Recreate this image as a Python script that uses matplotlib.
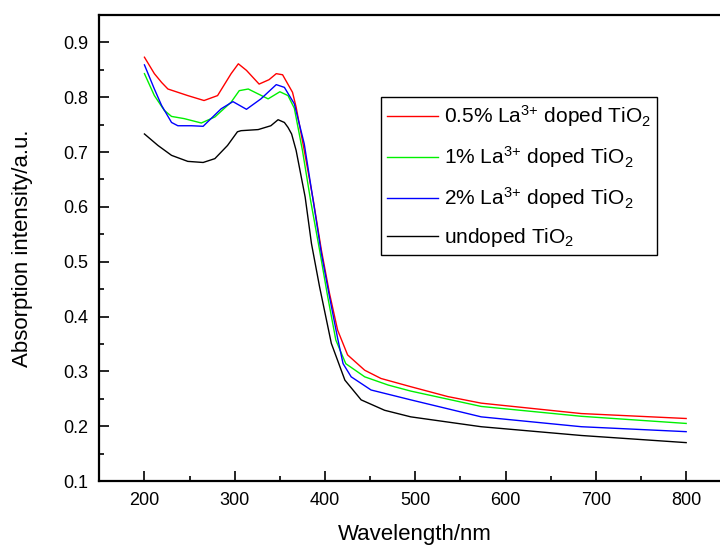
import matplotlib

matplotlib.use("Agg")
import matplotlib.pyplot as plt
from matplotlib.ticker import MultipleLocator

plt.rcParams["font.family"] = ["Liberation Sans", "DejaVu Sans"]
plt.rcParams["mathtext.default"] = "regular"

# UV-vis absorption spectra
wl_05 = [200, 211, 219, 226, 248, 266, 281, 296, 304, 313, 327, 338, 346, 353, 364, 368,
         377, 387, 396, 405, 414, 425, 444, 462, 495, 536, 573, 684, 800]
abs_05 = [0.873, 0.843, 0.827, 0.815, 0.803, 0.794, 0.803, 0.843, 0.861, 0.849, 0.824, 0.832,
          0.843, 0.841, 0.809, 0.782, 0.703, 0.612, 0.521, 0.442, 0.375, 0.330, 0.302, 0.287,
          0.272, 0.254, 0.242, 0.223, 0.214]

wl_1 = [200, 211, 222, 230, 244, 263, 278, 296, 305, 315, 326, 337, 350, 359, 366, 375,
        384, 394, 403, 412, 423, 444, 470, 495, 573, 684, 800]
abs_1 = [0.843, 0.803, 0.776, 0.765, 0.761, 0.753, 0.764, 0.791, 0.812, 0.815, 0.806, 0.797,
         0.810, 0.803, 0.780, 0.703, 0.612, 0.521, 0.436, 0.357, 0.314, 0.290, 0.275, 0.264,
         0.236, 0.218, 0.205]

wl_2 = [200, 211, 219, 230, 237, 252, 265, 285, 298, 313, 329, 346, 355, 366, 377, 388,
        396, 405, 414, 420, 429, 451, 495, 573, 684, 800]
abs_2 = [0.859, 0.815, 0.785, 0.754, 0.748, 0.748, 0.747, 0.779, 0.792, 0.778, 0.797, 0.823,
         0.818, 0.788, 0.715, 0.600, 0.515, 0.436, 0.360, 0.314, 0.290, 0.266, 0.248, 0.217,
         0.199, 0.190]

wl_un = [200, 215, 230, 248, 265, 278, 292, 303, 307, 326, 340, 348, 355, 359, 363, 368,
         378, 385, 394, 407, 422, 440, 466, 495, 573, 684, 800]
abs_un = [0.733, 0.712, 0.694, 0.683, 0.681, 0.688, 0.712, 0.737, 0.739, 0.741, 0.748, 0.759,
          0.754, 0.745, 0.733, 0.703, 0.618, 0.533, 0.454, 0.351, 0.284, 0.248, 0.229, 0.217,
          0.199, 0.183, 0.170]

labels = [r"0.5% La$^{3{+}}$ doped TiO$_2$", r"1% La$^{3{+}}$ doped TiO$_2$",
          r"2% La$^{3{+}}$ doped TiO$_2$", r"undoped TiO$_2$"]

W, H = 720, 545
fig = plt.figure(figsize=(W / 100, H / 100), dpi=100)
# right spine sits just outside the picture, as in the reference
ax = fig.add_axes([99.3 / W, 1 - 481 / H, 632 / W, 466 / H])

ax.plot(wl_05, abs_05, color="#ff0000", lw=1.0, label=labels[0])
ax.plot(wl_1, abs_1, color="#00f000", lw=1.0, label=labels[1])
ax.plot(wl_2, abs_2, color="#0000ff", lw=1.0, label=labels[2])
ax.plot(wl_un, abs_un, color="#000000", lw=1.0, label=labels[3])

ax.set_xlim(150, 850)
ax.set_ylim(0.1, 0.95)
ax.xaxis.set_major_locator(MultipleLocator(100))
ax.xaxis.set_minor_locator(MultipleLocator(50))
ax.yaxis.set_major_locator(MultipleLocator(0.1))
ax.yaxis.set_minor_locator(MultipleLocator(0.05))
ax.tick_params(which="both", direction="in", top=False, right=False, width=1.2,
               labelsize=13, pad=8)
ax.tick_params(which="major", length=7)
ax.tick_params(which="minor", length=3.5)
for s in ax.spines.values():
    s.set_linewidth(1.6)

ax.set_xlabel("Wavelength/nm", fontsize=16)
ax.set_ylabel("Absorption intensity/a.u.", fontsize=16)
ax.xaxis.set_label_coords(0.5, -0.092)
ax.yaxis.set_label_coords(-0.105, 0.5)

leg = ax.legend(loc="upper left", bbox_to_anchor=(380.7 / W, 1 - 97.3 / H),
                bbox_transform=fig.transFigure, borderaxespad=0, fontsize=15,
                fancybox=False, framealpha=1, edgecolor="black", handlelength=2.45,
                handletextpad=0.3, labelspacing=0.72, borderpad=0.3)
leg.get_frame().set_linewidth(1.0)

fig.savefig("out.png", dpi=100)
